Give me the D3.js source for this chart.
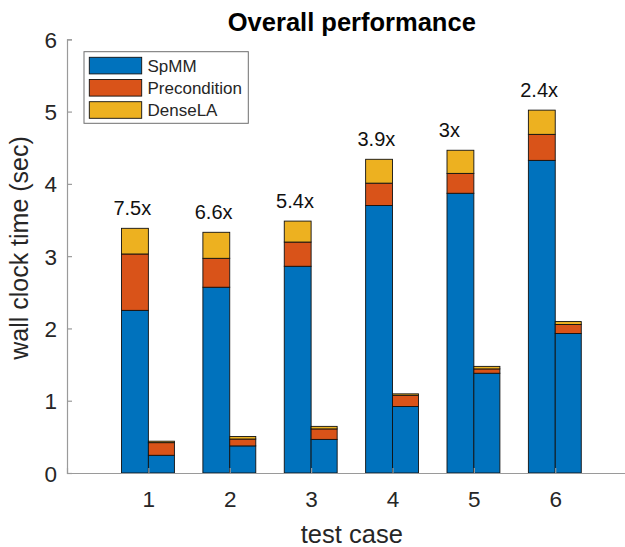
<script src="https://d3js.org/d3.v7.min.js"></script>

<html>
<body style="margin:0;background:#fff">
<div id="myPlot"></div>
</body>
<script>

    const W = 625;
    const H = 547;

    // data
    const cases = [1, 2, 3, 4, 5, 6];
    const speedups = ['7.5x', '6.6x', '5.4x', '3.9x', '3x', '2.4x'];
    const phases = ['SpMM', 'Precondition', 'DenseLA'];

    // left bar of each pair (original)
    const baseSpMM    = [2.25, 2.57, 2.86, 3.70, 3.87, 4.325];
    const basePrecond = [0.78, 0.40, 0.335, 0.31, 0.275, 0.36];
    const baseDense   = [0.355, 0.36, 0.29, 0.33, 0.32, 0.335];

    // right bar of each pair (new)
    const newSpMM    = [0.245, 0.375, 0.465, 0.92, 1.38, 1.93];
    const newPrecond = [0.175, 0.095, 0.145, 0.155, 0.06, 0.125];
    const newDense   = [0.02, 0.035, 0.035, 0.02, 0.035, 0.04];

    const yTicks = [0, 1, 2, 3, 4, 5, 6];
    const colors = ['#0072BD', '#D95319', '#EDB120'];

    const font = '"Liberation Sans", Arial, Helvetica, sans-serif';
    const textColor = '#262626';

    const plotLeft = 67, plotRight = 636.6, plotTop = 39.3, plotBottom = 473;

    const x = d3.scaleLinear().domain([0, 7]).range([plotLeft, plotRight]);
    const y = d3.scaleLinear().domain([0, 6]).range([plotBottom, plotTop]);

    const svg = d3.select('#myPlot').append('svg')
        .attr('width', W)
        .attr('height', H)
        .style('font-family', font);

    // build stacked rows for both bars of every case
    const rows = [];
    cases.forEach((c, i) => {
        rows.push({c: c, side: 0, v: [baseSpMM[i], basePrecond[i], baseDense[i]]});
        rows.push({c: c, side: 1, v: [newSpMM[i], newPrecond[i], newDense[i]]});
    });
    const segs = [];
    rows.forEach(r => {
        let acc = 0;
        r.v.forEach((v, k) => {
            segs.push({c: r.c, side: r.side, y0: acc, y1: acc + v, k: k});
            acc += v;
        });
        r.total = acc;
    });

    const barX0 = d => d.side === 0 ? d.c - 0.33 : d.c;
    const barX1 = d => d.side === 0 ? d.c : d.c + 0.32;

    const gra = svg.append('g');
    gra.selectAll('rect').data(segs).enter()
        .append('rect')
        .attr('x', d => x(barX0(d)))
        .attr('width', d => x(barX1(d)) - x(barX0(d)))
        .attr('y', d => y(d.y1))
        .attr('height', d => y(d.y0) - y(d.y1))
        .attr('fill', d => colors[d.k])
        .attr('stroke', '#111')
        .attr('stroke-width', 0.9);

    // axes (MATLAB style: ticks inside, no box)
    const yAxis = d3.axisLeft(y).tickValues(yTicks).tickSize(-5).tickPadding(10).tickFormat(d3.format('d'));
    const xAxis = d3.axisBottom(x).tickValues(cases).tickSize(-5).tickPadding(16).tickFormat(d3.format('d'));

    const ga = svg.append('g').attr('transform', `translate(${plotLeft},0)`).call(yAxis);
    const gb = svg.append('g').attr('transform', `translate(0,${plotBottom})`).call(xAxis);
    [ga, gb].forEach(g => {
        g.select('.domain').attr('stroke', '#9a9a9a').attr('stroke-width', 1.2);
        g.selectAll('.tick line').attr('stroke', '#9a9a9a').attr('stroke-width', 1.2);
        g.selectAll('.tick text')
            .attr('fill', textColor)
            .style('font-family', font)
            .style('font-size', '22.5px');
    });
    ga.selectAll('.tick text').attr('dy', '0.36em').attr('x', -10);
    gb.selectAll('.tick text').attr('dy', 0).attr('y', 34);

    // speedup labels
    svg.selectAll('text.speed').data(rows.filter(r => r.side === 0)).enter()
        .append('text')
        .attr('class', 'speed')
        .attr('x', d => x(d.c - 0.43))
        .attr('y', d => y(d.total + 0.185))
        .attr('fill', '#111')
        .style('font-size', '20px')
        .text((d, i) => speedups[i]);

    // titles
    svg.append('text')
        .attr('x', (plotLeft + plotRight) / 2)
        .attr('y', 31)
        .attr('text-anchor', 'middle')
        .attr('fill', '#000')
        .style('font-size', '25.5px')
        .style('font-weight', 'bold')
        .text('Overall performance');

    svg.append('text')
        .attr('x', (plotLeft + plotRight) / 2)
        .attr('y', 543)
        .attr('text-anchor', 'middle')
        .attr('fill', textColor)
        .style('font-size', '25.5px')
        .text('test case');

    svg.append('text')
        .attr('transform', 'translate(28,248) rotate(-90)')
        .attr('text-anchor', 'middle')
        .attr('fill', textColor)
        .style('font-size', '25px')
        .text('wall clock time (sec)');

    // legend
    const lg = svg.append('g');
    lg.append('rect')
        .attr('x', 84).attr('y', 51.7)
        .attr('width', 164.3).attr('height', 71.6)
        .attr('fill', '#fff')
        .attr('stroke', '#6e6e6e')
        .attr('stroke-width', 1);
    phases.forEach((p, k) => {
        const yy = 57.3 + k * 22.2;
        lg.append('rect')
            .attr('x', 89.3).attr('y', yy)
            .attr('width', 52.4).attr('height', 16.6)
            .attr('fill', colors[k])
            .attr('stroke', '#111')
            .attr('stroke-width', 0.9);
        lg.append('text')
            .attr('x', 147.5)
            .attr('y', yy + 14.5)
            .attr('fill', textColor)
            .style('font-size', '17px')
            .text(p);
    });
</script>
</html>
